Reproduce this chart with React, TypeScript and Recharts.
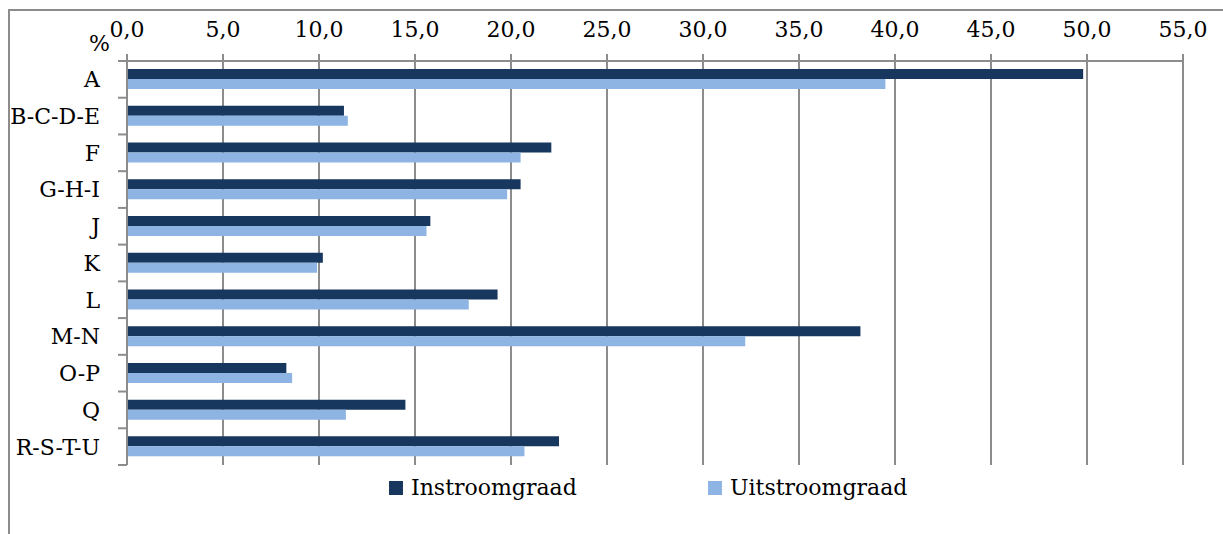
import { BarChart, Bar, XAxis, YAxis, CartesianGrid } from "recharts";

const categories = ["A", "B-C-D-E", "F", "G-H-I", "J", "K", "L", "M-N", "O-P", "Q", "R-S-T-U"];
const instroomgraad = [49.8, 11.3, 22.1, 20.5, 15.8, 10.2, 19.3, 38.2, 8.3, 14.5, 22.5];
const uitstroomgraad = [39.5, 11.5, 20.5, 19.8, 15.6, 9.9, 17.8, 32.2, 8.6, 11.4, 20.7];
const xTicks = [0, 5, 10, 15, 20, 25, 30, 35, 40, 45, 50, 55];

const DARK = "#17375e";
const LIGHT = "#8db4e2";
const AXIS = "#8c8c8c";
const FONT = "'DejaVu Serif', serif";

const data = categories.map((name, i) => ({
  name,
  instroomgraad: instroomgraad[i],
  uitstroomgraad: uitstroomgraad[i],
}));

function CategoryTick(props: any) {
  const { x, y, payload, index } = props;
  const off = payload.offset ?? 404 / categories.length / 2;
  const isLast = index === categories.length - 1;
  return (
    <g>
      <line x1={x + 18} x2={x + 27} y1={y - off} y2={y - off} stroke={AXIS} strokeWidth={2} />
      {isLast && (
        <line x1={x + 18} x2={x + 27} y1={y + off} y2={y + off} stroke={AXIS} strokeWidth={2} />
      )}
      <text x={x} y={y} dy="0.36em" textAnchor="end" fill="#000" fontSize={22} fontFamily={FONT}>
        {payload.value}
      </text>
    </g>
  );
}

function ChartLegend() {
  const items = [
    { label: "Instroomgraad", color: DARK },
    { label: "Uitstroomgraad", color: LIGHT },
  ];
  return (
    <div
      style={{
        position: "absolute",
        left: 389,
        top: 475,
        display: "flex",
        fontFamily: FONT,
        fontSize: 22,
        color: "#000",
      }}
    >
      {items.map((it) => (
        <div key={it.label} style={{ display: "flex", alignItems: "center", width: 319 }}>
          <span style={{ width: 14, height: 14, background: it.color, marginRight: 8, display: "inline-block" }} />
          <span>{it.label}</span>
        </div>
      ))}
    </div>
  );
}

export default function App() {
  return (
    <div style={{ position: "absolute", left: 0, top: 0, width: 1223, height: 534, background: "#fff" }}>
      <div
        style={{
          position: "absolute",
          left: 8,
          top: 9,
          width: 1215,
          height: 525,
          borderTop: `2px solid ${AXIS}`,
          borderLeft: `2px solid ${AXIS}`,
        }}
      />
      <div
        style={{
          position: "absolute",
          left: 89,
          top: 31,
          fontFamily: FONT,
          fontSize: 22,
          color: "#000",
        }}
      >
        %
      </div>
      <BarChart
        width={1223}
        height={534}
        data={data}
        layout="vertical"
        margin={{ top: 0, right: 40, bottom: 69, left: 0 }}
        barCategoryGap="22%"
        barGap={0}
        style={{ position: "absolute", left: 0, top: 0 }}
      >
        <CartesianGrid horizontal={false} stroke={AXIS} strokeWidth={2} />
        <XAxis
          type="number"
          orientation="top"
          domain={[0, 55]}
          ticks={xTicks}
          interval={0}
          height={61}
          tickSize={7}
          tickMargin={17}
          tickFormatter={(v: number) => v.toFixed(1).replace(".", ",")}
          tick={{ fill: "#000", fontSize: 22, fontFamily: FONT }}
          axisLine={{ stroke: AXIS, strokeWidth: 2 }}
          tickLine={{ stroke: AXIS, strokeWidth: 2 }}
        />
        <YAxis
          type="category"
          dataKey="name"
          width={127}
          tickSize={9}
          tickMargin={18}
          tickLine={false}
          interval={0}
          tick={<CategoryTick />}
          axisLine={{ stroke: AXIS, strokeWidth: 2 }}
        />
        <Bar dataKey="instroomgraad" fill={DARK} isAnimationActive={false} />
        <Bar dataKey="uitstroomgraad" fill={LIGHT} isAnimationActive={false} />
      </BarChart>
      <ChartLegend />
    </div>
  );
}
